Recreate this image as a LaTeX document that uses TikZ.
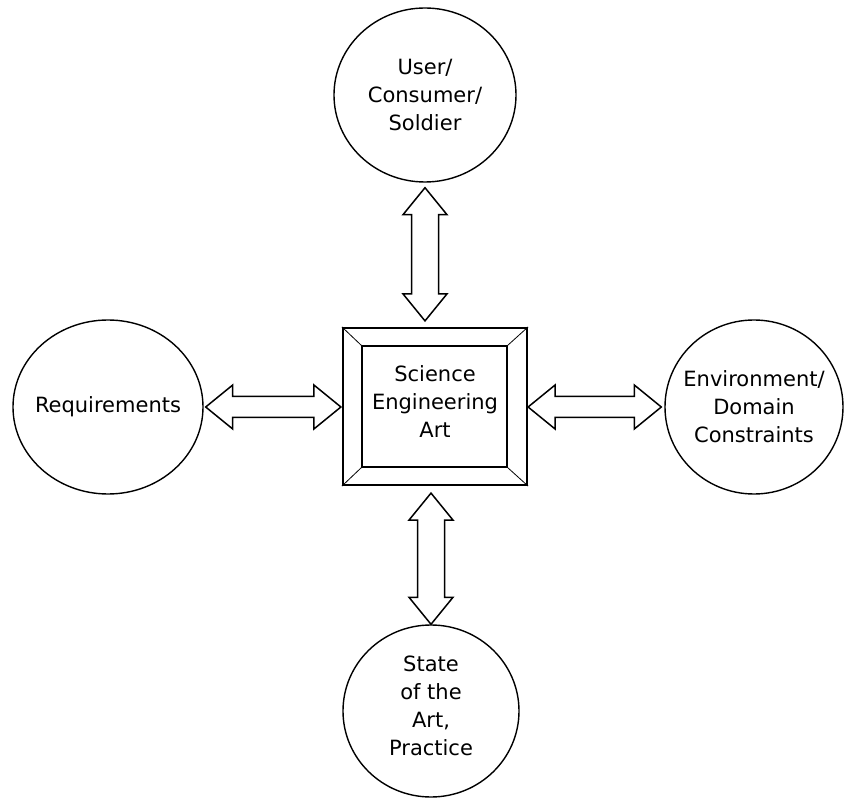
\documentclass[tikz,border=0pt]{standalone}
\usepackage{fontspec}
\setmainfont{DejaVu Sans}
\usetikzlibrary{shapes.geometric,calc}

% hollow double-headed block arrow between two points
\def\arrowheadlen{27pt}
\def\arrowheadhalf{22pt}
\newcommand\hollowarrow[5]{% #1 shaft half-width, #2 from, #3 to, #4 gap at from, #5 gap at to
  \coordinate (ha-s) at ($(#2)!#4!(#3)$);
  \coordinate (ha-e) at ($(#3)!#5!(#2)$);
  \coordinate (ha-hs) at ($(ha-s)!\arrowheadlen!(ha-e)$);
  \coordinate (ha-he) at ($(ha-e)!\arrowheadlen!(ha-s)$);
  \draw[arrowline] (ha-s)
    -- ($(ha-hs)!\arrowheadhalf!90:(ha-e)$) -- ($(ha-hs)!#1!90:(ha-e)$)
    -- ($(ha-he)!#1!-90:(ha-s)$) -- ($(ha-he)!\arrowheadhalf!-90:(ha-s)$)
    -- (ha-e)
    -- ($(ha-he)!\arrowheadhalf!90:(ha-s)$) -- ($(ha-he)!#1!90:(ha-s)$)
    -- ($(ha-hs)!#1!-90:(ha-e)$) -- ($(ha-hs)!\arrowheadhalf!-90:(ha-e)$)
    -- cycle;
}

\begin{document}
\begin{tikzpicture}[x=1pt,y=-1pt,
  every node/.style={font=\fontsize{21}{28}\selectfont},
  oval/.style={ellipse, draw, line width=1.4pt, inner sep=0pt},
  lbl/.style={align=center, inner sep=0pt},
  corebox/.style={rectangle, draw, line width=2.2pt, inner sep=0pt},
  arrowline/.style={draw, line width=1.5pt, line join=miter, fill=white}]
  \useasboundingbox[fill=white] (0,0) rectangle (844,799);

  % surrounding ellipses
  \node[oval, minimum width=182, minimum height=174,
        label={[lbl]center:{User/\\Consumer/\\Soldier}}] (user) at (425,95) {};
  \node[oval, minimum width=190, minimum height=174,
        label={[lbl]center:{Requirements}}] (req) at (108,407) {};
  \node[oval, minimum width=178, minimum height=174,
        label={[lbl]center:{Environment/\\Domain\\Constraints}}] (env) at (754,407) {};
  \node[oval, minimum width=176, minimum height=172,
        label={[lbl,yshift=5pt]center:{State\\of the\\Art,\\Practice}}] (state) at (431,711) {};

  % central framed box
  \node[corebox, minimum width=184, minimum height=157,
        label={[lbl,yshift=5pt]center:{Science\\Engineering\\Art}}] (core) at (435,406.5) {};
  \coordinate (in-nw) at ($(core.north west)+(20,19)$);
  \coordinate (in-ne) at ($(core.north east)+(-21,19)$);
  \coordinate (in-se) at ($(core.south east)+(-21,-19)$);
  \coordinate (in-sw) at ($(core.south west)+(20,-19)$);
  \draw[line width=2pt] (in-nw) rectangle (in-se);
  \draw[line width=0.8pt] (core.north west) -- (in-nw)
        (core.north east) -- (in-ne)
        (core.south east) -- (in-se)
        (core.south west) -- (in-sw);

  % connectors
  \hollowarrow{13.5pt}{user.south}{user.south |- core.north}{5pt}{6pt}
  \hollowarrow{13.5pt}{state.north |- core.south}{state.north}{7pt}{0pt}
  \hollowarrow{10.5pt}{req.east}{req.east -| core.west}{2pt}{1pt}
  \hollowarrow{10.5pt}{env.west -| core.east}{env.west}{0pt}{3pt}
\end{tikzpicture}
\end{document}
